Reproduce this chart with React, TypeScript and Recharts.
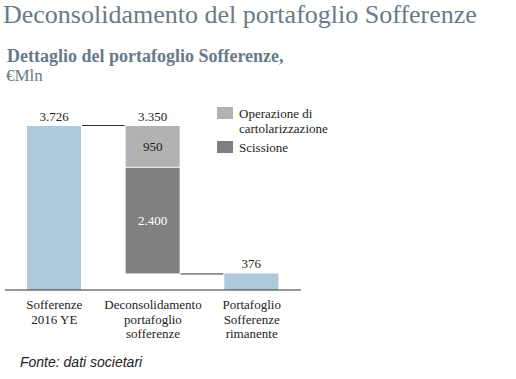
import React from 'react';
import { BarChart, Bar, XAxis, YAxis, LabelList, Legend } from 'recharts';

const categories = ['Sofferenze\n2016 YE', 'Deconsolidamento\nportafoglio\nsofferenze', 'Portafoglio\nSofferenze\nrimanente'];
const baseValues = [0, 376, 0];
const portfolioValues = [3726, 0, 376];
const scissioneValues = [0, 2400, 0];
const cartolarizzazioneValues = [0, 950, 0];
const seriesNames = { carto: 'Operazione di\ncartolarizzazione', scissione: 'Scissione' };

const data = categories.map((name, i) => ({
  name,
  base: baseValues[i],
  portfolio: portfolioValues[i],
  scissione: scissioneValues[i],
  carto: cartolarizzazioneValues[i],
  total: scissioneValues[i] + cartolarizzazioneValues[i],
}));
const maxTop = Math.max(...data.map((d) => d.base + d.portfolio + d.scissione + d.carto));

const SERIF = '"Liberation Serif", "Times New Roman", serif';
const BLUE = '#adc9da';
const LIGHT = '#b2b2b2';
const DARK = '#808080';
const TITLE = '#687a88';

const W = 516;
const H = 379;
const M = { top: 126, right: 215, left: 5, bottom: 29 };
const BAR = 54;
const BAND = (W - M.left - M.right) / categories.length;
const GAP = BAND - BAR;

const fmt = (v: number) => String(v).replace(/\B(?=(\d{3})+(?!\d))/g, '.');

const PortfolioShape = (props: any) => {
  const { x, y, width, height, payload } = props;
  if (!height || height <= 0) return <g />;
  const idx = categories.indexOf(payload?.name);
  const hasNext = idx >= 0 && idx < categories.length - 1;
  return (
    <g>
      <rect x={x} y={y} width={width} height={height} fill={BLUE} />
      {hasNext && <line x1={x + width + 1} x2={x + width + GAP - 1} y1={y - 0.5} y2={y - 0.5} stroke="#333" strokeWidth={1} />}
    </g>
  );
};

const ScissioneShape = (props: any) => {
  const { x, y, width, height } = props;
  if (!height || height <= 0) return <g />;
  return (
    <g>
      <rect x={x} y={y} width={width} height={height} fill={DARK} />
      <line x1={x + width + 1} x2={x + width + GAP - 1} y1={y + height + 0.5} y2={y + height + 0.5} stroke="#333" strokeWidth={1} />
    </g>
  );
};

const CartoShape = (props: any) => {
  const { x, y, width, height } = props;
  if (!height || height <= 0) return <g />;
  return <rect x={x} y={y} width={width} height={height - 1} fill={LIGHT} />;
};

const TopLabel = (props: any) => {
  const { x, y, width, value } = props;
  if (!value) return null;
  return (
    <text x={x + width / 2} y={y - 5} textAnchor="middle" fontFamily={SERIF} fontSize={13} fill="#222">
      {fmt(value)}
    </text>
  );
};

const InsideLabel = (color: string) => (props: any) => {
  const { x, y, width, height, value } = props;
  if (!value) return null;
  return (
    <text x={x + width / 2} y={y + height / 2 + 4} textAnchor="middle" fontFamily={SERIF} fontSize={13} fill={color}>
      {fmt(value)}
    </text>
  );
};

const CategoryTick = (props: any) => {
  const { x, y, payload } = props;
  const lines = String(payload.value).split('\n');
  return (
    <text x={x} y={y + 19} textAnchor="middle" fontFamily={SERIF} fontSize={13} fill="#222">
      {lines.map((l, i) => (
        <tspan key={i} x={x} dy={i === 0 ? 0 : 14.5}>{l}</tspan>
      ))}
    </text>
  );
};

const renderLegend = (props: any) => {
  const items = (props.payload || []).filter((p: any) => p.type !== 'none');
  const order = [seriesNames.carto, seriesNames.scissione];
  items.sort((a: any, b: any) => order.indexOf(a.value) - order.indexOf(b.value));
  return (
    <div style={{ fontFamily: SERIF, fontSize: 13, color: '#222', lineHeight: '15px' }}>
      {items.map((p: any, i: number) => (
        <div key={i} style={{ display: 'flex', alignItems: 'flex-start', marginBottom: 4 }}>
          <span style={{ display: 'inline-block', width: 16, height: 12, background: p.color, marginTop: 1, marginRight: 6, flexShrink: 0 }} />
          <span style={{ whiteSpace: 'pre-line' }}>{p.value}</span>
        </div>
      ))}
    </div>
  );
};

export default function App() {
  return (
    <div style={{ position: 'absolute', left: 0, top: 0, width: W, height: H, background: '#fff', overflow: 'hidden' }}>
      <svg width={W} height={H} style={{ position: 'absolute', left: 0, top: 0 }}>
        <text x={3} y={23} fontFamily={SERIF} fontSize={26} fill={TITLE}>Deconsolidamento del portafoglio Sofferenze</text>
        <text x={7} y={62} fontFamily={SERIF} fontSize={18} fontWeight="bold" fill={TITLE}>Dettaglio del portafoglio Sofferenze,</text>
        <text x={6} y={81} fontFamily={SERIF} fontSize={17} fill={TITLE}>€Mln</text>
        <text x={20} y={367} fontFamily='"Liberation Sans", Arial, sans-serif' fontStyle="italic" fontSize={14} fill="#222">Fonte: dati societari</text>
      </svg>
      <div style={{ position: 'absolute', left: 0, top: 0 }}>
        <BarChart width={W} height={H} data={data} margin={M} barSize={BAR}>
          <XAxis dataKey="name" height={60} tickLine={false} tickSize={0} tickMargin={0} axisLine={{ stroke: '#333' }} tick={<CategoryTick />} interval={0} />
          <YAxis hide domain={[0, maxTop]} />
          <Legend layout="horizontal" verticalAlign="middle" align="center" content={renderLegend} wrapperStyle={{ position: 'absolute', left: 217, top: 106, width: 200 }} />
          <Bar dataKey="base" stackId="a" fill="transparent" legendType="none" isAnimationActive={false} />
          <Bar dataKey="portfolio" stackId="a" fill={BLUE} legendType="none" shape={<PortfolioShape />} isAnimationActive={false}>
            <LabelList dataKey="portfolio" content={<TopLabel />} />
          </Bar>
          <Bar dataKey="scissione" name={seriesNames.scissione} stackId="a" fill={DARK} shape={<ScissioneShape />} isAnimationActive={false}>
            <LabelList dataKey="scissione" content={InsideLabel('#fff')} />
          </Bar>
          <Bar dataKey="carto" name={seriesNames.carto} stackId="a" fill={LIGHT} shape={<CartoShape />} isAnimationActive={false}>
            <LabelList dataKey="carto" content={InsideLabel('#222')} />
            <LabelList dataKey="total" content={<TopLabel />} />
          </Bar>
        </BarChart>
      </div>
    </div>
  );
}
